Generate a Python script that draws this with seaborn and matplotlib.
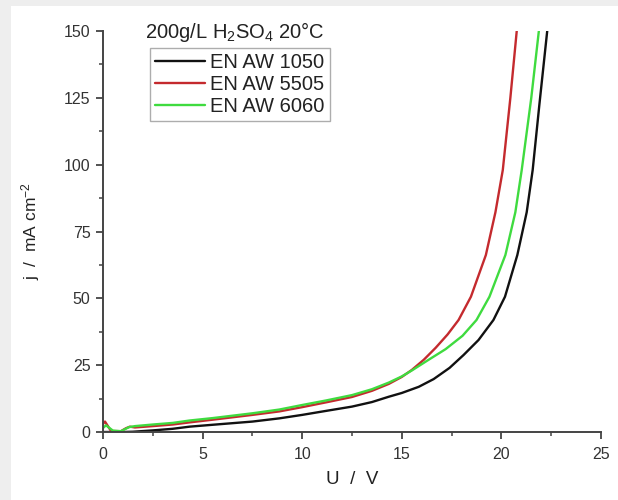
import numpy as np
import pandas as pd
import seaborn as sns
import matplotlib.pyplot as plt
from matplotlib.patches import Rectangle
from matplotlib.ticker import MultipleLocator

# values
alloys = ["EN AW 1050", "EN AW 5505", "EN AW 6060"]
colors = ["#111111", "#c42a2e", "#3fdb3f"]

u_1050 = [0, 0.5, 1.0, 1.5, 2.5, 3.5, 4.35, 5.5, 7.5, 8.85, 10.0, 11.2, 12.5, 13.5, 14.35,
          15.0, 15.85, 16.6, 17.4, 18.1, 18.85, 19.6, 20.18, 20.8, 21.27, 21.57, 21.9, 22.3]
j_1050 = [0, 0, 0, 0.1, 0.6, 1.2, 2.0, 2.7, 3.9, 5.1, 6.4, 7.9, 9.5, 11.2, 13.2,
          14.6, 16.9, 19.8, 24.0, 28.8, 34.4, 41.9, 50.6, 66.2, 82.2, 98, 122, 150]

u_5505 = [0, 0.1, 0.4, 0.9, 1.15, 1.35, 1.6, 2.5, 3.5, 4.35, 5.5, 7.5, 8.85, 10.0, 11.2, 12.5,
          13.5, 14.35, 15.0, 15.5, 16.1, 16.7, 17.3, 17.85, 18.47, 19.22, 19.7, 20.07, 20.45, 20.77]
j_5505 = [3.0, 3.9, 0.4, 0.3, 1.4, 2.0, 1.7, 2.2, 2.8, 3.6, 4.6, 6.4, 7.7, 9.3, 11.1, 13.1,
          15.4, 18.0, 20.6, 23.2, 27.0, 31.5, 36.5, 41.9, 50.6, 66.2, 82.2, 98, 125, 150]

u_6060 = [0, 0.15, 0.5, 0.9, 1.3, 1.6, 2.5, 3.5, 4.35, 5.5, 7.5, 8.85, 10.0, 11.2, 12.5, 13.5,
          14.35, 15.0, 15.5, 16.3, 17.2, 18.05, 18.75, 19.4, 20.2, 20.7, 21.02, 21.5, 21.88]
j_6060 = [1.5, 2.5, 0.5, 0.3, 1.8, 2.2, 2.8, 3.4, 4.3, 5.2, 7.0, 8.4, 10.1, 11.8, 13.8, 16.0,
          18.5, 20.8, 23.0, 26.8, 31.0, 36.0, 41.9, 50.6, 66.2, 82.2, 98, 125, 150]

df = pd.concat([
    pd.DataFrame({"U": u_1050, "j": j_1050, "alloy": alloys[0]}),
    pd.DataFrame({"U": u_5505, "j": j_5505, "alloy": alloys[1]}),
    pd.DataFrame({"U": u_6060, "j": j_6060, "alloy": alloys[2]}),
], ignore_index=True)

sns.set_style("ticks")
plt.rcParams['font.family'] = ['Liberation Sans', 'DejaVu Sans']
plt.rcParams['mathtext.fontset'] = 'custom'
plt.rcParams['mathtext.rm'] = 'Liberation Sans'
plt.rcParams['mathtext.it'] = 'Liberation Sans:italic'

fig = plt.figure(figsize=(6.18, 5.0), dpi=100, facecolor='#eeeeee')
# white page with a thin grey margin on the left and top
fig.patches.append(Rectangle((11 / 618, 0), 1, 494 / 500, transform=fig.transFigure,
                             facecolor='white', edgecolor='none', zorder=-10))
ax = fig.add_axes([103 / 618, 68 / 500, 498 / 618, 401 / 500])
ax.set_facecolor('none')

sns.lineplot(data=df, x="U", y="j", hue="alloy", hue_order=alloys,
             palette=dict(zip(alloys, colors)), sort=False, estimator=None,
             lw=1.7, ax=ax)

ax.set_xlim(0, 25)
ax.set_ylim(0, 150)
ax.xaxis.set_major_locator(MultipleLocator(5))
ax.xaxis.set_minor_locator(MultipleLocator(2.5))
ax.yaxis.set_major_locator(MultipleLocator(25))
ax.yaxis.set_minor_locator(MultipleLocator(12.5))
sns.despine(ax=ax)
for s in ['left', 'bottom']:
    ax.spines[s].set_color('#444444')
    ax.spines[s].set_linewidth(1.4)
ax.tick_params(which='major', direction='out', length=5, width=1.3, color='#444444',
               labelsize=11.5, labelcolor='#333333')
ax.tick_params(axis='x', which='major', pad=6)
ax.tick_params(axis='y', which='major', pad=4)
ax.tick_params(which='minor', direction='out', length=3, width=1.1, color='#444444')

ax.set_xlabel("U  /  V", fontsize=13.5, color='#222222', labelpad=6)
ax.set_ylabel("j  /  mA cm$^{-2}$", fontsize=12.5, color='#222222', labelpad=16)

ax.text(0.084, 0.997, "200g/L H$_2$SO$_4$ 20°C", transform=ax.transAxes,
        ha='left', va='center', fontsize=14.5, color='#222222')

leg = ax.legend(loc='upper left', bbox_to_anchor=(0.094, 0.958), borderaxespad=0,
                fontsize=14.5, frameon=True, fancybox=False, handlelength=2.5,
                handletextpad=0.25, labelspacing=0.15, borderpad=0.25)
leg.get_frame().set_edgecolor('#999999')
leg.get_frame().set_linewidth(1.0)
for t in leg.get_texts():
    t.set_color('#222222')

fig.savefig("out.png", dpi=100, facecolor=fig.get_facecolor())
